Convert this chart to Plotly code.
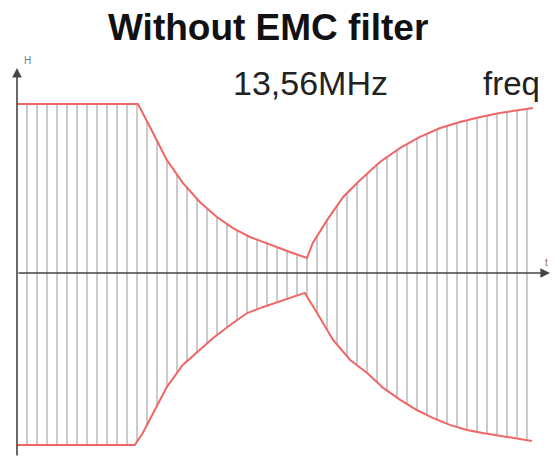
import numpy as np
import plotly.graph_objects as go

# Envelope (time in arbitrary units 0..100, amplitude normalised)
upper_t = [0.0, 22.7, 24.95, 28.1, 31.1, 34.3, 37.5, 40.5, 43.7, 47.5, 51.2, 54.4,
           55.5, 58.2, 61.2, 64.4, 68.1, 71.9, 75.6, 79.4, 83.1, 86.9, 90.6, 96.8]
upper_a = [1.0, 1.0, 0.864, 0.669, 0.533, 0.420, 0.331, 0.266, 0.213, 0.166, 0.124, 0.089,
           0.178, 0.314, 0.450, 0.550, 0.657, 0.740, 0.805, 0.858, 0.893, 0.923, 0.947, 0.976]
lower_t = [0.0, 22.1, 23.6, 25.5, 28.1, 31.1, 33.8, 36.8, 40.0, 43.2, 46.2, 49.9, 54.0,
           56.3, 59.3, 62.5, 65.7, 68.7, 71.9, 75.0, 78.0, 81.2, 84.4, 87.4, 90.6, 96.6]
lower_a = [1.018, 1.018, 0.947, 0.828, 0.675, 0.544, 0.467, 0.385, 0.308, 0.237, 0.201, 0.160, 0.118,
           0.237, 0.396, 0.515, 0.592, 0.680, 0.751, 0.811, 0.858, 0.899, 0.929, 0.947, 0.964, 0.994]

carrier_start, carrier_end, carrier_step = 1.88, 96.0, 1.876

title_text = "Without EMC filter"
freq_label = "13,56MHz"
freq_word = "freq"
y_label = "H"
x_label = "t"

# carrier strokes (vertical lines between envelopes)
tk = np.arange(carrier_start, carrier_end, carrier_step)
uk = np.interp(tk, upper_t, upper_a)
lk = np.interp(tk, lower_t, lower_a)
cx, cy = [], []
for t, u, l in zip(tk, uk, lk):
    cx += [t, t, None]
    cy += [u, -l, None]

fig = go.Figure()
fig.add_trace(go.Scatter(x=cx, y=cy, mode="lines",
                         line=dict(color="rgba(110,110,110,0.6)", width=1.2),
                         hoverinfo="skip", showlegend=False))
fig.add_trace(go.Scatter(x=upper_t, y=upper_a, mode="lines",
                         line=dict(color="#f06565", width=2), showlegend=False))
fig.add_trace(go.Scatter(x=lower_t, y=[-v for v in lower_a], mode="lines",
                         line=dict(color="#f06565", width=2), showlegend=False))

ymax, ymin = 1.213, -1.089
ann = []
# axes with arrows
ann.append(dict(x=0, y=ymax, ax=0, ay=ymin, xref="x", yref="y", axref="x", ayref="y",
                showarrow=True, arrowhead=2, arrowsize=1.2, arrowwidth=1.6,
                arrowcolor="#444444", standoff=0, text=""))
ann.append(dict(x=100, y=0, ax=0, ay=0, xref="x", yref="y", axref="x", ayref="y",
                showarrow=True, arrowhead=2, arrowsize=1.2, arrowwidth=1.6,
                arrowcolor="#444444", standoff=0, text=""))
ann.append(dict(x=0.470, y=1.105, xref="paper", yref="paper", text="<b>%s</b>" % title_text,
                showarrow=False, font=dict(family="Liberation Sans", size=37, color="#111111"),
                xanchor="center", yanchor="middle"))
ann.append(dict(x=0.55, y=0.961, xref="paper", yref="paper", text=freq_label,
                showarrow=False, font=dict(family="Liberation Sans", size=34, color="#222222"),
                xanchor="center", yanchor="middle"))
ann.append(dict(x=0.927, y=0.961, xref="paper", yref="paper", text=freq_word,
                showarrow=False, font=dict(family="Liberation Sans", size=33, color="#222222"),
                xanchor="center", yanchor="middle"))
ann.append(dict(x=0.019, y=1.02, xref="paper", yref="paper", text=y_label,
                showarrow=False, font=dict(family="Liberation Sans", size=10, color="#6a7a9a"),
                xanchor="center", yanchor="middle"))
ann.append(dict(x=0.993, y=0.50, xref="paper", yref="paper", text=x_label,
                showarrow=False, font=dict(family="Liberation Sans", size=10, color="#a0702a"),
                xanchor="center", yanchor="middle"))

fig.update_layout(
    width=554, height=457,
    margin=dict(l=17, r=4, t=68, b=0),
    paper_bgcolor="white", plot_bgcolor="white",
    xaxis=dict(range=[0, 100], visible=False, fixedrange=True),
    yaxis=dict(range=[ymin, ymax], visible=False, fixedrange=True),
    annotations=ann,
    showlegend=False,
)
fig.write_html("out.html", post_script="document.body.style.margin='0px';",
               config={"displayModeBar": False})
